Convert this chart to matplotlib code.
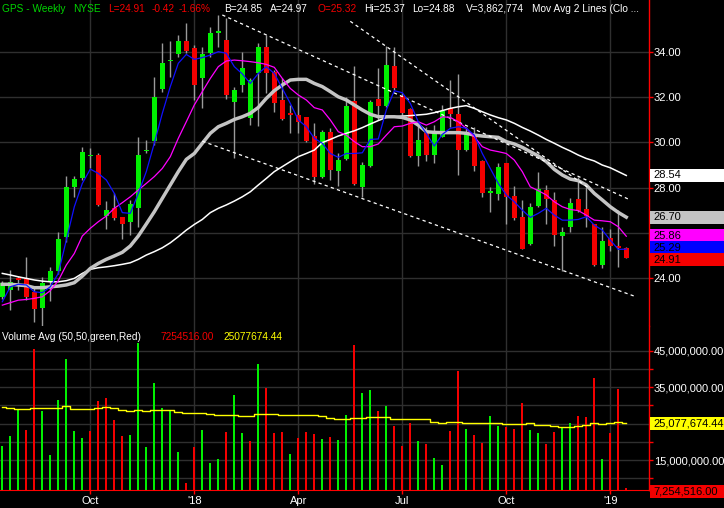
import numpy as np
import pandas as pd
import matplotlib
matplotlib.use('Agg')
import matplotlib.pyplot as plt
from matplotlib.patches import Rectangle
from matplotlib.lines import Line2D
from matplotlib.ticker import FixedLocator, FuncFormatter

plt.rcParams['font.family'] = ['Liberation Sans', 'DejaVu Sans']
plt.rcParams['font.size'] = 8

# weekly bars, GPS (NYSE), Jul 2017 - Jan 2019
weeks = pd.date_range('2017-07-17', periods=79, freq='W-MON')

opens = [23.19, 23.51, 23.95, 24.00, 23.41, 22.71, 23.85, 24.34, 25.81, 28.01,
         28.44, 29.38, 29.44, 26.76, 27.12, 26.72, 26.50, 27.12, 29.60, 30.07,
         32.35, 33.57, 33.90, 34.47, 34.16, 32.85, 33.93, 34.82, 34.51, 31.79,
         32.53, 31.09, 33.04, 34.22, 33.12, 31.87, 31.24, 31.21, 31.10, 30.28,
         28.46, 30.44, 28.75, 29.26, 31.82, 28.04, 28.97, 31.90, 31.62, 33.37,
         32.04, 31.47, 29.41, 30.40, 29.44, 30.25, 31.53, 31.25, 29.66, 30.37,
         29.18, 27.75, 27.72, 29.07, 27.63, 26.72, 25.51, 27.21, 27.90, 27.46,
         25.88, 26.28, 27.49, 27.06, 26.38, 24.59, 25.76, 25.36, 25.32]
highs = [23.90, 24.37, 24.10, 24.93, 23.56, 24.07, 24.51, 26.04, 28.53, 28.53,
         29.81, 29.76, 29.54, 27.41, 27.75, 26.72, 27.46, 30.22, 30.10, 32.87,
         34.37, 34.47, 34.74, 35.25, 34.29, 34.22, 35.10, 35.60, 35.50, 32.46,
         34.00, 32.82, 34.37, 34.74, 33.19, 32.82, 31.65, 32.01, 31.13, 30.84,
         30.54, 30.62, 29.51, 32.01, 33.37, 29.15, 31.87, 33.26, 34.25, 34.22,
         32.16, 31.50, 30.72, 30.69, 30.76, 31.65, 32.75, 33.01, 30.66, 30.66,
         29.22, 28.04, 29.10, 29.10, 28.09, 27.46, 27.34, 28.68, 28.12, 27.79,
         26.25, 27.53, 28.46, 28.04, 26.40, 26.28, 26.18, 27.01, 25.37]
lows = [23.10, 22.60, 23.50, 23.04, 22.09, 21.87, 23.00, 24.20, 25.62, 27.57,
        28.34, 28.85, 27.20, 26.18, 26.57, 25.74, 25.91, 26.28, 29.54, 29.88,
        32.24, 32.90, 33.78, 33.93, 31.87, 31.50, 33.78, 34.22, 31.90, 29.29,
        32.20, 30.76, 30.72, 32.19, 31.35, 30.99, 30.40, 30.40, 30.00, 28.16,
        28.41, 28.34, 28.09, 29.22, 28.12, 27.60, 28.90, 30.99, 31.57, 32.31,
        31.21, 29.37, 28.97, 29.19, 29.10, 30.22, 30.69, 28.56, 29.63, 28.75,
        27.60, 26.91, 27.46, 26.40, 26.57, 25.28, 25.47, 27.16, 26.40, 25.44,
        24.34, 26.03, 26.94, 26.28, 24.56, 24.44, 25.21, 24.51, 24.88]
closes = [23.80, 23.82, 23.93, 23.19, 22.65, 23.81, 24.32, 25.74, 28.03, 28.38,
          29.57, 29.43, 27.24, 27.01, 26.68, 26.40, 27.28, 29.44, 29.63, 31.99,
          33.49, 33.60, 34.47, 34.03, 32.53, 33.90, 34.81, 34.85, 32.09, 32.31,
          33.26, 32.75, 34.22, 33.07, 31.75, 31.03, 31.21, 30.88, 30.07, 28.46,
          30.44, 28.78, 29.22, 31.60, 28.16, 29.00, 31.78, 31.62, 33.41, 32.41,
          31.28, 29.41, 30.10, 29.44, 30.37, 31.38, 31.25, 29.66, 30.40, 28.97,
          27.75, 27.84, 28.93, 27.60, 26.68, 25.29, 27.13, 27.94, 27.50, 25.91,
          26.04, 27.34, 26.99, 26.75, 24.59, 25.66, 25.44, 25.33, 24.91]

# volume in millions of shares
volumes = [18.95, 21.68, 28.97, 23.32, 45.46, 28.52, 16.49, 31.52, 42.72, 23.05,
           21.14, 23.05, 31.07, 32.07, 26.06, 21.68, 21.96, 47.19, 18.68, 36.26,
           29.34, 28.33, 17.31, 8.84, 18.68, 23.32, 14.31, 15.40, 22.78, 32.89,
           22.50, 20.32, 41.36, 34.80, 22.50, 22.78, 16.77, 21.14, 22.78, 22.23,
           20.87, 21.41, 20.59, 27.42, 46.55, 33.43, 34.25, 28.52, 29.89, 24.42,
           18.95, 25.23, 20.32, 19.50, 15.67, 13.76, 23.05, 39.44, 23.60, 21.96,
           19.77, 27.15, 24.42, 24.14, 23.60, 30.70, 23.32, 22.50, 19.50, 22.78,
           23.87, 25.23, 27.15, 26.88, 37.53, 15.40, 22.50, 34.52, 7.254516]
vol_avg = [29.52, 29.24, 28.97, 28.97, 29.24, 29.24, 29.24, 29.24, 29.70, 28.97,
           28.97, 28.97, 29.24, 29.52, 29.24, 28.79, 28.42, 28.61, 28.42, 28.61,
           28.79, 28.61, 28.24, 27.88, 27.88, 27.88, 27.60, 27.33, 27.33, 27.33,
           26.97, 27.15, 27.60, 27.60, 27.60, 27.33, 27.33, 27.33, 27.33, 27.33,
           27.15, 26.51, 26.24, 26.24, 26.51, 26.51, 26.79, 26.79, 26.79, 26.24,
           26.24, 26.24, 26.24, 26.24, 25.51, 25.15, 25.51, 25.51, 25.15, 25.15,
           25.15, 25.15, 25.15, 24.87, 24.87, 24.87, 25.15, 24.60, 24.60, 24.33,
           24.05, 24.05, 24.33, 24.60, 25.15, 24.87, 25.15, 25.42, 25.07767444]

# moving average lines as drawn on the chart
ma_blue = [22.97, 23.63, 23.74, 23.71, 23.41, 23.37, 23.63, 24.22, 25.69, 27.16,
           28.19, 28.82, 28.63, 28.34, 27.75, 26.90, 26.87, 27.75, 28.71, 29.96,
           31.28, 32.46, 33.49, 33.88, 33.66, 33.74, 33.85, 34.00, 33.93, 33.34,
           33.02, 32.60, 33.04, 33.34, 33.04, 32.38, 31.72, 30.99, 30.69, 30.18,
           29.96, 29.51, 29.34, 29.51, 29.51, 29.54, 30.13, 30.15, 31.43, 32.28,
           32.19, 31.72, 30.91, 30.40, 29.84, 30.35, 30.62, 30.69, 30.62, 30.32,
           29.51, 28.85, 28.19, 27.68, 27.38, 27.01, 26.69, 26.87, 27.09, 26.79,
           26.57, 26.57, 26.60, 26.72, 26.35, 26.13, 25.69, 25.28, 25.29]
ma_magenta = [22.82, 22.93, 23.04, 23.07, 23.12, 23.19, 23.46, 23.90, 24.59, 25.10,
              25.87, 26.21, 26.50, 26.75, 27.09, 27.34, 27.60, 27.90, 28.19, 28.49,
              28.85, 29.37, 30.18, 30.91, 31.65, 32.24, 32.82, 33.34, 33.59, 33.63,
              33.60, 33.56, 33.51, 33.44, 33.31, 32.82, 32.38, 32.09, 31.87, 31.53,
              31.43, 30.99, 30.47, 30.32, 30.03, 29.81, 29.81, 29.93, 30.32, 30.69,
              30.72, 30.84, 30.91, 30.76, 30.91, 31.13, 31.10, 30.91, 30.62, 30.25,
              29.81, 29.66, 29.59, 29.51, 29.22, 28.71, 28.04, 27.87, 27.68, 27.38,
              27.16, 27.04, 26.99, 26.79, 26.57, 26.54, 26.50, 26.28, 25.86]
ma_gray = [23.74, 23.74, 23.71, 23.68, 23.59, 23.59, 23.63, 23.66, 23.71, 23.81,
           24.10, 24.44, 24.66, 24.84, 24.99, 25.15, 25.43, 25.87, 26.40, 26.94,
           27.53, 28.12, 28.71, 29.25, 29.51, 29.96, 30.40, 30.69, 30.84, 31.01,
           31.13, 31.28, 31.54, 31.94, 32.28, 32.53, 32.75, 32.78, 32.78, 32.60,
           32.46, 32.24, 32.01, 31.87, 31.65, 31.43, 31.24, 31.13, 31.13, 31.13,
           31.10, 30.99, 30.76, 30.47, 30.44, 30.43, 30.43, 30.43, 30.40, 30.32,
           30.28, 30.25, 30.22, 30.03, 29.93, 29.78, 29.59, 29.40, 29.15, 28.81,
           28.56, 28.38, 28.31, 28.12, 27.75, 27.46, 27.16, 26.91, 26.70]
ma_white = [24.22, 24.15, 24.07, 24.00, 23.93, 23.88, 23.85, 23.85, 23.90, 24.00,
            24.22, 24.40, 24.47, 24.51, 24.56, 24.62, 24.69, 24.84, 25.03, 25.18,
            25.35, 25.57, 25.84, 26.13, 26.38, 26.60, 26.90, 27.09, 27.24, 27.41,
            27.60, 27.82, 28.12, 28.41, 28.71, 28.93, 29.15, 29.37, 29.51, 29.66,
            29.99, 30.13, 30.28, 30.40, 30.51, 30.65, 30.81, 30.96, 31.10, 31.13,
            31.16, 31.18, 31.21, 31.24, 31.31, 31.40, 31.50, 31.57, 31.62, 31.50,
            31.35, 31.21, 31.09, 30.99, 30.84, 30.66, 30.50, 30.32, 30.13, 29.96,
            29.78, 29.62, 29.44, 29.29, 29.18, 29.00, 28.88, 28.71, 28.54]

# hand-drawn trend channel lines (week index, price)
trend_x = [[27.5, 78.5], [43.5, 73.5], [25.0, 79.3]]
trend_y = [[35.62, 27.46], [35.34, 27.94], [30.05, 23.18]]

tick_dates = ['2017-10-02', '2018-01-01', '2018-04-02', '2018-07-02', '2018-10-01', '2018-12-31']
tick_labels = ['Oct', "'18", 'Apr', 'Jul', 'Oct', "'19"]
price_ticks = [24, 26, 28, 30, 32, 34]

W, H = 724, 508
GREEN = '#00f000'
RED = '#f40000'
GRID = '#2f2f2f'
HDR = 7.3

x = np.arange(len(weeks))
o = np.array(opens); c = np.array(closes)
hi = np.array(highs); lo = np.array(lows)
vol = np.array(volumes) * 1e6
vavg = np.array(vol_avg) * 1e6
tick_pos = weeks.get_indexer(pd.to_datetime(tick_dates))

fig = plt.figure(figsize=(W / 100, H / 100), dpi=100, facecolor='black')
ax = fig.add_axes([0, 1 - 326 / H, 649 / W, 326 / H], facecolor='black')
axv = fig.add_axes([0, 1 - 490 / H, 649 / W, 164 / H], facecolor='black', sharex=ax)

# candles
up = c >= o
ax.vlines(x, lo, hi, color='#9a9a9a', lw=1, zorder=2)
ax.bar(x, np.maximum(np.abs(c - o), 0.08), bottom=np.minimum(o, c), width=0.66,
       color=np.where(up, GREEN, RED), zorder=3)

# moving averages
ax.plot(x, ma_white, color='white', lw=1.1, zorder=4)
ax.plot(x, ma_gray, color='#c4c4c4', lw=2.5, zorder=4)
ax.plot(x, ma_magenta, color='#ff00ff', lw=0.9, zorder=5)
ax.plot(x, ma_blue, color='#1010ff', lw=0.9, zorder=5)

for tx, ty in zip(trend_x, trend_y):
    ax.plot(tx, ty, color='white', lw=0.9, ls=(0, (2.6, 2.6)), zorder=4)

ax.set_xlim(-0.29, 80.84)
ax.set_ylim(21.90, 36.28)

# volume
vol_up = np.r_[True, np.diff(c) >= 0]
axv.bar(x, vol, width=0.28, color=np.where(vol_up, GREEN, RED), zorder=3)
axv.plot(x, vavg, color='#ffff00', lw=1, drawstyle='steps-mid', zorder=4)
axv.set_ylim(6.8e6, 51.75e6)

# axes styling
for a in (ax, axv):
    for s in ('top', 'left', 'bottom'):
        a.spines[s].set_visible(False)
    a.spines['right'].set_color('red')
    a.spines['right'].set_linewidth(1)
    a.yaxis.tick_right()
    a.tick_params(axis='y', which='both', colors='red', labelcolor='white',
                  length=3, width=1, pad=0.5, labelsize=8)
    a.set_axisbelow(True)

ax.set_yticks(price_ticks, [f'{p:.2f}' for p in price_ticks])
ax.grid(True, color=GRID, lw=1)
ax.tick_params(axis='x', length=0, labelbottom=False)

axv.spines['bottom'].set_visible(True)
axv.spines['bottom'].set_color('red')
axv.yaxis.set_major_locator(FixedLocator([15e6, 25e6, 35e6, 45e6]))
axv.yaxis.set_minor_locator(FixedLocator([10e6, 20e6, 30e6, 40e6]))
axv.yaxis.set_major_formatter(FuncFormatter(lambda v, _: f'{v:,.2f}'))
axv.grid(True, which='both', axis='y', color=GRID, lw=1)
axv.grid(True, which='major', axis='x', color=GRID, lw=1)
axv.set_xticks(tick_pos, tick_labels)
axv.tick_params(axis='x', colors='red', labelcolor='white', length=3, width=1,
                pad=1, labelsize=8)

fig.add_artist(Line2D([649 / W, 1], [1 - 490 / H] * 2, color='red', lw=1,
                      transform=fig.transFigure))


def side_label(a, value, text, fc, dy=0):
    # dy: pixel nudge downwards, as the chart does for crowded labels
    fy = (a.transData.transform((0, value))[1] - dy) / H
    fig.add_artist(Rectangle((650 / W, fy - 6.5 / H), (W - 650) / W, 13 / H,
                             transform=fig.transFigure, facecolor=fc,
                             edgecolor='none', zorder=5))
    fig.text(653 / W, fy, text, color='black', va='center', ha='left',
             fontsize=8, zorder=6)


side_label(ax, ma_white[-1], f'{ma_white[-1]:.2f}', 'white')
side_label(ax, ma_gray[-1], f'{ma_gray[-1]:.2f}', '#c4c4c4')
side_label(ax, ma_magenta[-1], f'{ma_magenta[-1]:.2f}', '#ff00ff', dy=-0.6)
side_label(ax, ma_blue[-1], f'{ma_blue[-1]:.2f}', '#0000ff', dy=-1.3)
side_label(ax, c[-1], f'{c[-1]:.2f}', RED, dy=1.9)
side_label(axv, vavg[-1], f'{vavg[-1]:,.2f}', '#ffff00')
side_label(axv, vol[-1], f'{vol[-1]:,.2f}', RED, dy=3)

# header lines
chg = c[-1] - c[-2]
header = [
    ('GPS - Weekly', 2, '#00d400'),
    ('NYSE', 73, '#00d400'),
    (f'L={c[-1]:.2f}', 108, RED),
    (f'{chg:.2f}', 152, RED),
    (f'{chg / c[-2] * 100:.2f}%', 179, RED),
    ('B=24.85', 224, 'white'),
    ('A=24.97', 270, 'white'),
    (f'O={o[-1]:.2f}', 317, RED),
    (f'Hi={hi[-1]:.2f}', 364, 'white'),
    (f'Lo={lo[-1]:.2f}', 412, 'white'),
    ('V=3,862,774', 466, 'white'),
    ('Mov Avg 2 Lines (Clo ...', 532, 'white'),
]
for txt, px, col in header:
    fig.text(px / W, 1 - 11.5 / H, txt, color=col, fontsize=HDR, va='baseline', zorder=6)

vol_header = [
    ('Volume Avg (50,50,green,Red)', 2, 'white'),
    (f'{vol[-1]:.2f}', 161, RED),
    (f'{vavg[-1]:.2f}', 223, '#ffff00'),
]
for txt, px, col in vol_header:
    fig.text(px / W, 1 - 339.5 / H, txt, color=col, fontsize=HDR, va='baseline', zorder=6)

fig.savefig('out.png', dpi=100, facecolor='black')
